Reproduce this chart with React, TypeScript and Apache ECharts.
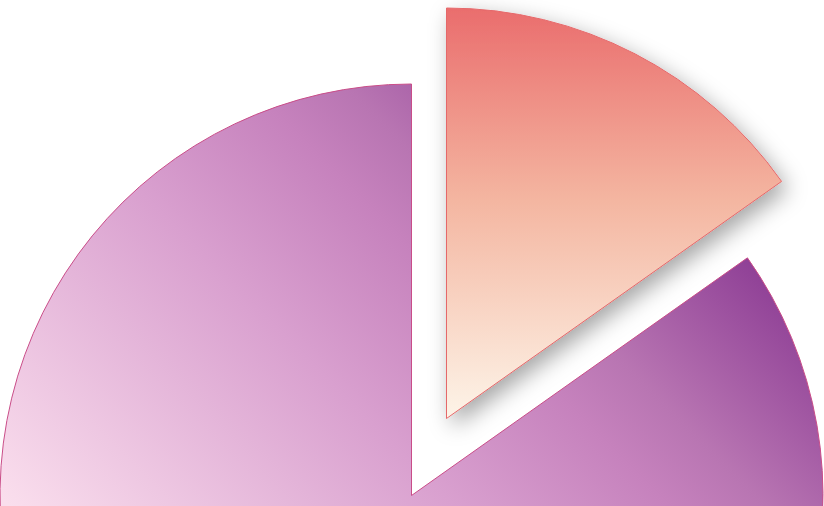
import React, { useEffect, useRef } from 'react';
import * as echarts from 'echarts';

// slice data (orange ~54.7deg of 360)
const sliceNames = ['Segment A', 'Segment B'];
const sliceValues = [15.2, 84.8];

const orangeFill = {
  type: 'linear',
  x: 0, y: 0, x2: 0, y2: 1,
  colorStops: [
    { offset: 0, color: '#ea6d6d' },
    { offset: 0.47, color: '#f4b6a1' },
    { offset: 1, color: '#fdf4e8' },
  ],
};

const purpleFill = {
  type: 'linear',
  x: 0, y: 1, x2: 1, y2: 0,
  colorStops: [
    { offset: 0.25, color: '#fadeed' },
    { offset: 0.52, color: '#d9a0cf' },
    { offset: 0.65, color: '#c682bd' },
    { offset: 0.71, color: '#b875b2' },
    { offset: 0.86, color: '#8c3c94' },
  ],
};

const App: React.FC = () => {
  const chartRef = useRef<HTMLDivElement>(null);

  useEffect(() => {
    const chart = echarts.init(chartRef.current!, undefined, { renderer: 'svg' });

    const hidden = { opacity: 0, borderWidth: 0 };

    // the big slice stays in place
    const baseData = sliceNames.map((name, i) => ({
      name,
      value: sliceValues[i],
      itemStyle: i === 0
        ? hidden
        : { color: purpleFill, borderColor: '#c94d88', borderWidth: 1 },
    }));

    // the small slice is pulled out
    const pulledData = sliceNames.map((name, i) => ({
      name,
      value: sliceValues[i],
      itemStyle: i === 0
        ? {
            color: orangeFill,
            borderColor: '#e5686a',
            borderWidth: 1,
            shadowBlur: 22,
            shadowColor: 'rgba(0,0,0,0.35)',
            shadowOffsetX: 6,
            shadowOffsetY: 8,
          }
        : hidden,
    }));

    const common = {
      type: 'pie',
      startAngle: 90,
      clockwise: true,
      silent: true,
      label: { show: false },
      labelLine: { show: false },
      emphasis: { disabled: true },
    };

    chart.setOption({
      animation: false,
      series: [
        { ...common, center: [411.5, 495.5], radius: 411.5, data: baseData },
        { ...common, center: [446.5, 418.5], radius: 410.5, data: pulledData },
      ],
    });

    return () => {
      chart.dispose();
    };
  }, []);

  return (
    <div
      ref={chartRef}
      style={{ position: 'fixed', left: 0, top: 0, width: '824px', height: '506px' }}
    />
  );
};

export default App;
